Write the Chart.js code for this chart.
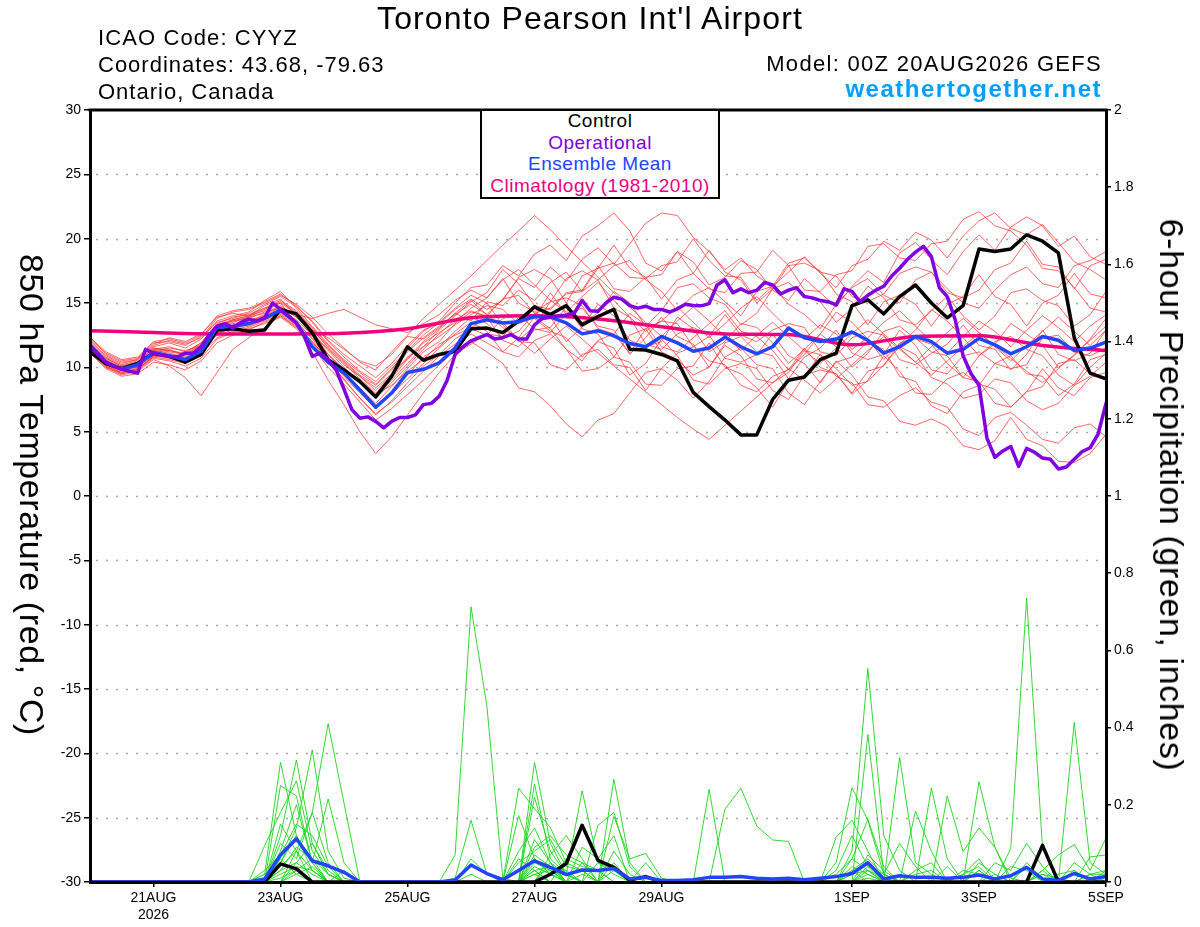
<!DOCTYPE html>
<html><head><meta charset="utf-8">
<script src="https://cdn.jsdelivr.net/npm/chart.js@4.4.1/dist/chart.umd.min.js"></script>
<style>
html,body{margin:0;padding:0;background:#fff;}
#wrap{position:relative;width:1200px;height:927px;overflow:hidden;font-family:"Liberation Sans",Arial,sans-serif;background:#fff;}
#c{position:absolute;left:0;top:0;}
.t{position:absolute;white-space:nowrap;line-height:1;color:#000;}
#legend{position:absolute;left:480px;top:109px;width:240px;height:90px;box-sizing:border-box;border:2px solid #000;background:#fff;}
.lg{position:absolute;left:0;width:100%;text-align:center;font-size:19px;letter-spacing:0.5px;line-height:1;white-space:nowrap;}
</style></head><body>
<div id="wrap">
<canvas id="c" width="1200" height="927"></canvas>
<div class="t" style="left:590px;top:2px;font-size:32px;letter-spacing:1.1px;transform:translateX(-50%);">Toronto Pearson Int'l Airport</div>
<div class="t" style="left:98px;top:27px;font-size:22px;letter-spacing:1.1px;">ICAO Code: CYYZ</div>
<div class="t" style="left:98px;top:54px;font-size:22px;letter-spacing:1px;">Coordinates: 43.68, -79.63</div>
<div class="t" style="left:98px;top:81px;font-size:22px;letter-spacing:1px;">Ontario, Canada</div>
<div class="t" style="right:98px;top:53px;font-size:22px;letter-spacing:1.3px;">Model: 00Z 20AUG2026 GEFS</div>
<div class="t" style="right:98px;top:77px;font-size:24px;letter-spacing:1.5px;font-weight:bold;color:#00a0fa;">weathertogether.net</div>
<div class="t" style="left:32px;top:495px;font-size:34px;letter-spacing:0.6px;transform:translate(-50%,-50%) rotate(90deg);">850 hPa Temperature (red, °C)</div>
<div class="t" style="left:1172px;top:495px;font-size:34px;letter-spacing:0.6px;transform:translate(-50%,-50%) rotate(90deg);">6-hour Precipitation (green, inches)</div>
<div id="legend">
  <div class="lg" style="top:0px;color:#000;">Control</div>
  <div class="lg" style="top:22px;color:#8000e0;">Operational</div>
  <div class="lg" style="top:43px;color:#2244ff;">Ensemble Mean</div>
  <div class="lg" style="top:65px;color:#f0007f;">Climatology (1981-2010)</div>
</div>
</div>
<script>
// ---------- axis / tick definitions ----------
const TICK_HOURS = [24, 72, 120, 168, 216, 288, 336, 384];
const TICK_LABELS = [["21AUG","2026"], "23AUG", "25AUG", "27AUG", "29AUG", "1SEP", "3SEP", "5SEP"];
const TEMP_TICKS = [-30,-25,-20,-15,-10,-5,0,5,10,15,20,25,30];
const PRECIP_TICKS = [0,0.2,0.4,0.6,0.8,1,1.2,1.4,1.6,1.8,2];
const STEP_MAIN = 6;   // hours between 6-hourly values (20AUG 00Z = hour 0)
const STEP_OPER = 3;   // operational run, 3-hourly
const STEP_CLIM = 24;  // daily climatology

// ---------- 850 hPa temperature (deg C), 6-hourly ----------
const controlTemp = [11.2,10.3,9.9,10.3,11.1,10.85,10.4,11.0,12.9,13.0,
 12.8,12.9,14.5,14.15,12.7,10.6,9.8,8.9,7.7,9.3,
 11.6,10.55,11.0,11.25,13.0,13.05,12.7,13.6,14.7,14.1,
 14.8,13.3,13.95,14.5,11.4,11.35,11.0,10.5,8.05,6.95,
 5.9,4.75,4.75,7.5,9.0,9.25,10.6,11.1,14.8,15.25,
 14.15,15.5,16.4,15.0,13.85,14.8,19.2,19.0,19.2,20.3,
 19.8,18.9,12.3,9.55,9.1];
const meanTemp = [11.75,10.4,9.85,10.2,11.15,10.9,10.6,11.25,13.1,13.2,
 13.4,13.8,14.45,13.45,11.6,10.4,9.55,8.25,6.9,8.0,
 9.6,9.85,10.35,11.5,13.4,13.7,13.45,13.55,13.95,13.9,
 13.45,12.6,12.85,12.45,11.85,11.6,12.4,11.9,11.25,11.5,
 12.35,11.6,11.05,11.6,13.05,12.3,12.0,12.2,12.75,12.1,
 11.1,11.6,12.4,12.0,11.1,11.4,12.25,11.75,11.05,11.6,
 12.4,12.1,11.3,11.5,11.95];
const climTemp = [12.85,12.7,12.6,12.6,12.65,13.0,13.85,14.0,13.75,13.15,12.6,12.55,11.75,12.4,12.45,11.7,11.3];
// operational, 3-hourly (one row per day)
const operTemp = [
 11.6,11.0,10.4,10.1,9.85,9.7,9.55,11.4,
 11.1,10.95,10.85,10.8,11.1,11.1,11.6,12.5,
 13.2,13.4,13.05,13.5,13.75,13.6,13.85,15.0,
 14.5,14.0,13.45,12.4,10.85,11.1,10.6,9.8,
 8.3,6.7,6.05,6.15,5.8,5.3,5.8,6.1,
 6.1,6.3,7.1,7.2,7.75,9.0,11.0,11.6,
 12.05,12.3,12.55,12.2,12.3,12.55,12.2,12.2,
 13.3,13.8,13.9,14.0,14.05,14.2,15.2,14.4,
 14.35,15.0,15.45,15.3,14.8,14.6,14.75,14.5,
 14.5,14.3,14.55,14.9,14.8,14.78,14.95,16.4,
 16.8,15.8,16.1,15.8,16.0,16.6,16.4,15.7,
 16.0,16.2,15.5,15.4,15.2,15.1,14.85,16.1,
 15.9,15.1,15.6,16.0,16.3,17.1,17.7,18.4,
 18.95,19.4,18.6,16.2,15.5,13.7,10.9,9.5,
 8.6,4.5,3.0,3.5,3.85,2.3,3.7,3.4,
 2.95,2.85,2.1,2.25,2.85,3.45,3.75,4.8,
 7.2];

// ensemble members, 6-hourly
const memT01 = [12.0,10.8,10.2,10.5,11.6,11.9,11.5,12.2,13.6, 14.0,14.3,15.2,15.9, 14.6,13.2,11.8,10.5,9.4,8.6, 9.8,11.5,12.8,13.6,15.0,16.2,
 16.4,17.9,17.1,18.8,19.5,18.3,20.2,21.0, 22.0,20.6,18.1,17.5,19.0,18.2,16.4,17.0, 18.3,17.6,16.0,15.2,16.9,15.8,14.7,16.3, 17.5,16.6,18.9,19.7,18.4,17.2,19.0,20.3, 19.1,20.9,21.7,21.0,19.4,20.2,18.6,18.0];
const memT02 = [11.5,10.2,9.6,9.9,10.8,10.6,10.3,10.9,12.6, 13.1,13.4,14.0,14.6, 14.2,12.8,11.0,9.6,8.4,7.2, 8.5,9.9,11.2,12.0,13.4,14.3,
 14.0,15.3,16.9,16.2,17.8,16.7,18.4,19.3, 18.0,19.6,21.2,22.0,21.8,20.1,19.0,17.6, 18.5,17.1,16.3,17.4,18.6,17.3,16.2,17.9, 18.4,19.8,19.1,20.5,19.9,18.5,20.2,21.4, 22.0,20.8,20.3,21.1,19.7,18.2,17.6,16.8];
const memT03 = [12.4,11.0,10.4,10.6,11.8,12.3,12.0,12.6,13.9, 14.2,14.0,14.8,15.3, 14.0,12.9,12.3,11.4,10.5,10.1, 11.0,12.4,12.2,13.1,14.2,13.6,
 15.1,14.8,16.0,15.2,16.6,17.4,15.9,16.8, 17.9,18.3,16.8,15.9,14.4,15.6,16.2,15.1, 14.0,15.9,16.3,14.9,14.1,13.0,14.9,16.2, 16.9,15.6,15.0,16.8,17.4,16.1,15.0,14.6, 16.0,17.2,17.8,16.5,16.2,17.9,18.3,19.0];
const memT04 = [11.6,10.4,9.8,10.1,11.4,11.2,11.0,11.8,13.2, 13.6,13.8,14.3,14.6, 14.1,13.8,14.2,14.5,13.9,13.3, 13.0,12.7,13.4,14.1,15.2,16.0,
 15.4,16.8,17.6,16.4,15.2,14.3,15.5,16.6, 15.2,13.9,12.8,13.6,14.7,13.5,12.3,13.4, 14.6,15.5,14.2,13.0,12.2,13.3,12.6,11.4, 12.3,13.5,14.4,13.2,12.0,11.1,12.4,13.6, 12.8,11.6,12.9,14.0,13.1,12.0,13.2,14.1];
const memT05 = [11.3,10.0,9.4,9.7,10.6,10.1,9.2,7.8,9.6, 11.4,12.3,13.1,14.0, 13.2,12.0,10.6,9.0,7.6,6.3, 7.4,8.8,10.1,11.0,12.2,13.0,
 12.5,13.8,14.1,13.0,12.7,14.2,14.6,13.2, 12.9,11.0,12.3,13.9,12.4,11.8,10.0,11.9, 12.4,11.2,10.9,9.1,10.8,11.5,12.9,11.1, 10.6,11.0,12.9,11.7,9.8,9.5,10.9,11.2, 10.3,9.9,10.2,12.3,12.5,11.2,10.9,11.5];
const memT06 = [11.9,10.7,10.1,10.4,11.5,11.3,11.1,11.9,13.4, 13.9,14.1,14.6,15.0, 13.4,11.2,9.0,7.1,5.0,3.3, 4.6,6.3,8.0,9.6,11.0,11.8,
 12.6,12.4,13.9,13.8,12.8,12.3,10.8,12.0, 11.5,9.4,10.3,12.2,10.9,9.0,8.7,9.9, 10.3,9.9,8.2,7.5,9.4,9.8,9.5,7.9, 9.0,10.9,9.7,8.0,7.9,9.1,9.6,8.7, 8.3,6.9,8.1,9.9,8.4,7.8,9.2,9.6];
const memT07 = [11.4,10.3,9.9,10.2,11.0,10.9,10.7,11.3,12.8, 13.3,13.6,14.0,14.4, 13.7,12.5,11.0,9.8,8.9,7.9, 8.6,9.7,10.6,11.8,12.5,13.1,
 13.8,13.5,12.1,13.2,15.1,15.4,14.8,13.0, 12.6,11.1,13.0,13.6,13.4,11.6,12.4,14.1, 12.5,12.0,12.9,13.4,13.1,11.2,10.9,12.3, 12.8,12.5,10.6,10.2,11.1,11.8,13.3,11.7, 11.4,9.8,11.0,12.9,11.0,10.5,11.1,12.9];
const memT08 = [11.7,10.5,9.9,10.0,11.1,11.4,10.9,11.6,13.0, 13.5,13.9,14.5,15.1, 14.3,13.0,11.5,10.3,9.1,8.0, 9.2,10.6,11.9,12.7,13.5,14.6,
 15.4,16.9,15.0,14.3,15.1,16.9,17.5,16.8, 14.6,13.9,11.8,11.4,12.6,13.1,12.5,10.7, 10.4,11.0,12.6,10.9,10.3,8.8,10.5,9.4, 7.7,7.4,5.8,5.5,6.0,5.4,3.9,3.6, 4.3,6.1,4.4,3.9,2.7,2.6,3.3,4.8];
const memT09 = [12.2,11.1,10.5,10.7,11.9,12.0,11.7,12.4,13.5, 13.8,14.2,14.9,15.5, 14.7,13.6,12.1,11.0,10.1,9.2, 10.3,11.7,12.9,13.4,14.5,15.3,
 14.5,15.2,17.0,17.6,16.9,15.0,17.1,17.7, 19.5,17.7,17.0,15.3,16.8,17.3,19.1,17.4, 16.8,15.0,16.1,17.9,18.1,17.5,15.7,15.1, 13.3,15.1,15.6,14.9,13.2,14.9,15.5,17.2, 15.5,14.9,13.2,15.0,15.6,17.3,15.7,15.4];
const memT10 = [11.1,9.9,9.3,9.5,10.4,10.2,9.8,10.5,11.9, 12.5,12.9,13.5,14.0, 13.1,11.9,10.5,9.1,7.6,6.4, 7.3,8.5,9.7,10.9,11.8,12.6,
 11.9,11.2,10.8,12.1,12.6,11.4,9.7,9.9, 10.8,12.5,13.0,11.2,10.6,9.4,10.0,11.7, 10.9,9.1,8.8,9.6,11.3,11.0,9.9,8.6, 8.9,10.2,11.6,11.0,9.2,8.7,7.6,7.9, 9.1,8.8,7.4,6.7,7.2,8.6,9.3,10.4];
const memT11 = [12.1,10.9,10.3,10.6,11.7,12.1,11.8,12.3,13.8, 14.3,14.5,15.0,15.6, 14.9,13.9,12.6,11.5,10.4,9.8, 11.2,12.5,13.8,14.9,16.0,17.1,
 18.3,19.5,20.6,21.8,20.7,19.4,18.2,17.0, 15.8,14.7,13.5,12.4,13.6,14.7,13.6,12.4, 11.3,12.5,13.5,12.4,11.3,10.3,11.5,12.6, 13.7,12.6,11.5,10.4,11.6,12.7,13.8,12.7, 11.6,10.5,11.7,12.8,13.9,12.8,11.7,12.9];
const memT12 = [11.5,10.1,9.5,9.8,10.9,10.7,10.4,11.1,12.3, 12.8,13.0,13.4,13.9, 13.0,11.6,10.0,8.7,7.3,5.9, 6.8,7.9,9.0,10.2,11.3,12.0,
 11.2,10.3,8.4,8.1,7.0,5.6,4.6,5.9, 6.4,8.0,9.6,9.9,9.0,7.6,8.9,10.8, 11.5,10.2,9.9,8.0,7.1,8.9,10.4,10.8, 12.0,11.4,9.3,8.9,7.0,6.4,8.1,8.6, 10.3,10.9,9.5,9.3,7.8,8.7,10.6,11.0];
const memT13 = [11.8,10.5,9.8,10.1,11.3,11.1,10.8,11.5,13.1, 13.7,14.0,14.6,15.2, 14.4,13.1,11.7,10.6,9.6,8.7, 9.9,11.2,12.3,13.2,14.1,14.9,
 14.1,15.3,15.6,14.2,14.6,15.8,16.0,17.9, 16.1,15.9,17.0,17.2,19.0,17.3,16.1,15.8, 17.3,17.4,19.1,17.9,16.0,15.9,17.2,17.5, 19.4,19.6,18.5,18.3,19.6,19.8,21.5,22.1, 21.0,20.6,19.5,17.7,17.5,16.2,14.6,14.3];
const memT14 = [11.3,10.2,9.7,10.0,10.9,11.0,10.6,11.2,12.7, 13.0,13.3,13.8,14.3, 13.6,12.2,10.7,9.5,8.2,7.0, 8.1,9.4,10.8,11.6,12.8,13.9,
 13.4,12.3,12.8,14.2,13.9,12.0,13.1,14.9, 14.0,12.1,11.6,12.0,13.9,13.0,11.2,12.0, 13.4,13.1,11.9,10.3,11.4,12.6,14.3,13.5, 12.2,10.6,11.8,12.9,14.5,13.6,12.3,10.9, 11.8,13.4,12.6,11.7,10.0,10.9,12.2,13.8];
const memT15 = [11.9,10.6,10.0,10.3,11.4,11.6,11.2,11.9,13.3, 13.6,13.9,14.2,14.8, 13.9,12.6,11.3,10.0,8.8,7.6, 8.8,10.1,11.4,12.6,13.7,14.4,
 13.9,12.1,11.6,12.9,13.1,14.7,13.0,12.6, 10.8,10.4,8.7,8.6,9.9,10.1,11.9,10.0, 9.5,8.4,6.9,8.9,9.3,11.0,9.3,8.8, 7.1,6.9,7.8,8.4,7.3,6.9,5.2,4.7, 6.1,6.5,5.5,4.4,4.1,5.3,5.6,4.6];
const memT16 = [11.6,10.4,9.9,10.3,11.3,11.5,11.3,11.7,13.0, 13.4,13.6,14.1,14.7, 13.9,12.7,11.4,10.2,9.3,8.4, 9.5,10.8,11.6,12.4,13.3,14.1,
 14.8,14.5,13.4,13.9,15.8,14.1,13.5,14.2, 15.9,15.0,13.2,14.4,16.2,16.5,15.4,14.9, 13.3,14.2,16.1,16.6,15.5,15.1,13.5,14.6, 16.3,15.4,13.7,13.3,14.4,15.5,14.0,12.9, 14.0,15.8,16.1,15.2,14.8,13.2,14.1,15.9];
const memT17 = [12.3,11.2,10.6,10.8,12.0,12.2,11.9,12.5,14.0, 14.4,14.6,15.1,15.7, 14.8,13.5,12.0,10.8,9.7,8.9, 10.1,11.3,12.5,13.5,14.6,15.6,
 15.0,13.3,12.0,11.9,10.2,9.8,11.0,11.4, 10.2,10.0,8.2,9.9,11.1,11.6,10.5,10.2, 8.6,8.1,9.3,9.8,11.5,10.0,9.5,8.0, 9.7,10.1,11.9,12.3,11.2,10.9,9.2,8.9, 7.2,6.9,8.1,8.5,10.3,10.6,9.5,9.2];
const memT18 = [11.4,10.1,9.6,9.9,10.8,11.0,10.7,11.4,12.5, 12.9,13.2,13.7,14.2, 13.4,12.3,11.0,9.9,8.9,7.7, 9.0,10.3,11.6,12.9,14.0,15.1,
 15.8,17.6,16.5,14.8,14.5,15.7,15.9,17.7, 18.1,17.0,16.9,17.9,18.2,20.0,18.3,17.1, 17.0,15.2,16.3,18.1,18.5,17.4,17.1,15.5, 15.1,15.7,17.3,17.8,17.4,15.8,15.4,16.0, 17.6,18.1,19.8,18.0,17.8,16.1,17.9,18.4];
const memT19 = [11.8,10.7,10.1,10.4,11.5,11.3,11.0,11.7,13.3, 13.7,14.0,14.4,15.0, 14.2,12.9,11.6,10.4,9.3,8.2, 9.4,10.7,12.0,13.0,14.2,15.2,
 14.1,13.1,12.1,11.1,12.2,13.2,12.2,11.1, 10.1,9.1,8.1,7.1,6.1,5.2,4.4,5.5, 6.6,7.7,8.8,9.9,9.0,8.0,9.1,10.2, 11.3,12.4,11.4,10.4,9.4,10.5,11.6,12.7, 11.7,10.7,9.7,8.8,9.9,11.0,12.1,13.2];
const memT20 = [11.2,10.0,9.5,9.8,10.7,10.5,10.1,10.7,12.2, 12.7,13.1,13.6,14.1, 13.3,12.0,10.6,9.3,8.0,6.8, 7.9,9.1,10.3,11.5,12.6,13.5,
 12.8,11.2,12.3,13.9,13.0,11.4,10.5,12.1, 12.6,14.2,13.3,11.6,11.2,12.3,13.4,14.4, 12.8,12.4,11.3,9.8,11.0,12.6,11.6,10.0, 11.1,12.8,13.2,12.2,11.8,10.3,9.2,10.9, 12.0,12.4,11.4,10.9,9.4,8.6,10.0,11.1];

// ---------- 6-hour precipitation (inches), 6-hourly ----------
const controlPrecip = [0,0,0,0,0,0,0,0,0,0,
 0,0,0.047,0.034,0,0,0,0,0,0,
 0,0,0,0,0,0,0,0,0,0.02,
 0.048,0.147,0.056,0.038,0.005,0.014,0,0,0,0,
 0,0,0,0,0,0,0,0,0,0,
 0,0,0,0,0,0,0,0,0,0,
 0.095,0,0,0,0];
const meanPrecip = [0,0,0,0,0,0,0,0,0,0,
 0,0.008,0.07,0.112,0.055,0.042,0.025,0,0,0,
 0,0,0,0.005,0.044,0.022,0.006,0.03,0.055,0.038,
 0.019,0.031,0.03,0.035,0.008,0.012,0.004,0.004,0.006,0.012,
 0.012,0.014,0.01,0.008,0.01,0.006,0.01,0.014,0.022,0.05,
 0.008,0.016,0.012,0.012,0.01,0.012,0.018,0.008,0.016,0.038,
 0.008,0.004,0.022,0.008,0.014];
const memP01 = [0,0,0,0,0,0,0,0,0,0, 0,0.02,0.31,0.12,0.03,0,0,0,0,0, 0,0,0,0,0.06,0.02,0,0,0.31,0.1, 0.02,0,0,0.05,0,0,0,0,0,0, 0,0,0,0,0,0,0,0,0.08,0.553, 0.12,0.03,0,0,0,0,0.03,0,0,0.05, 0.01,0,0,0,0];
const memP02 = [0,0,0,0,0,0,0,0,0,0, 0,0,0.12,0.316,0.1,0.02,0,0,0,0, 0,0,0,0.07,0.713,0.456,0.01,0,0.06,0.02, 0,0,0,0,0,0,0,0,0,0, 0,0,0,0,0,0,0,0,0.02,0.05, 0,0,0,0,0,0.02,0.04,0,0.087,0.736, 0.09,0,0,0,0];
const memP03 = [0,0,0,0,0,0,0,0,0,0, 0,0,0.05,0.14,0.342,0.08,0.01,0,0,0, 0,0,0,0,0,0,0,0.243,0.19,0.141, 0.05,0.03,0,0,0,0,0,0,0,0, 0,0,0,0,0,0,0,0,0,0.382, 0.02,0.1,0.04,0,0,0,0,0,0,0, 0,0,0.414,0.05,0.02];
const memP04 = [0,0,0,0,0,0,0,0,0,0, 0,0,0,0.08,0.18,0.41,0.204,0,0,0, 0,0,0,0,0,0,0,0,0.254,0.06, 0.02,0.236,0.05,0.02,0,0,0,0,0,0.24, 0,0,0,0,0,0,0,0.05,0.244,0.16, 0.02,0,0,0,0,0,0,0,0,0, 0,0,0,0,0];
const memP05 = [0,0,0,0,0,0,0,0,0,0, 0,0.094,0.18,0.262,0.08,0.02,0,0,0,0, 0,0,0,0.01,0.16,0.02,0,0,0.219,0.08, 0.02,0,0,0.266,0.05,0,0,0,0,0, 0,0,0,0,0,0,0,0,0,0, 0,0.323,0.05,0.02,0,0,0,0,0,0, 0.02,0.01,0,0,0];
const memP06 = [0,0,0,0,0,0,0,0,0,0, 0,0,0.25,0.223,0.05,0.215,0.05,0,0,0, 0,0,0,0,0,0,0,0.172,0.06,0.03, 0,0,0.147,0.18,0.04,0,0,0,0,0, 0.189,0.243,0.145,0.109,0.105,0,0,0,0,0, 0,0,0.184,0.08,0,0,0,0,0,0, 0,0,0,0,0];
const memP07 = [0,0,0,0,0,0,0,0,0,0, 0,0,0.1,0.06,0.18,0.05,0,0,0,0, 0,0,0,0,0.02,0,0,0,0,0.07, 0.12,0.06,0,0.17,0.06,0.074,0.01,0,0,0, 0,0,0,0,0,0,0,0,0,0, 0,0,0,0.243,0.06,0,0.26,0.09,0.01,0, 0,0,0,0,0];
const memP08 = [0,0,0,0,0,0,0,0,0,0, 0,0.03,0.07,0.15,0.12,0.04,0,0,0,0, 0,0,0,0,0,0,0,0,0.11,0.05, 0,0.09,0.06,0.12,0,0.05,0,0,0,0, 0,0,0,0,0,0,0,0.116,0.16,0.08, 0,0,0,0,0.223,0.079,0.14,0.09,0,0, 0,0,0,0.065,0.07];
const memP09 = [0,0,0,0,0,0,0,0,0,0, 0,0,0.08,0.2,0.05,0,0.03,0,0,0, 0,0,0,0,0,0,0,0,0.09,0.12, 0.07,0.05,0,0,0,0,0,0,0,0, 0,0,0,0,0,0,0,0,0.06,0.162, 0.04,0,0.03,0.05,0,0,0,0,0,0, 0.03,0.07,0.097,0.03,0.114];
const memP10 = [0,0,0,0,0,0,0,0,0,0, 0,0,0.03,0.09,0.06,0,0,0,0,0, 0,0,0,0,0,0,0,0.08,0.14,0.05, 0,0,0.05,0.03,0,0,0,0,0,0, 0,0,0,0,0,0,0,0,0,0.07, 0.03,0,0,0,0,0,0,0.05,0.03,0.1, 0.04,0,0,0,0];
const memP11 = [0,0,0,0,0,0,0,0,0,0, 0,0,0.15,0.08,0.03,0,0,0,0,0, 0,0,0,0,0,0,0,0,0.03,0.04, 0.03,0,0,0,0,0,0,0,0,0, 0,0,0,0,0,0,0,0.03,0.12,0.04, 0,0,0.02,0.03,0,0,0.05,0.02,0,0, 0,0,0.05,0.02,0.03];
const memP12 = [0,0,0,0,0,0,0,0,0,0, 0,0,0,0.05,0.1,0.03,0,0,0,0, 0,0,0,0,0,0,0,0.05,0.08,0.11, 0.04,0.03,0,0,0,0,0,0,0,0, 0,0,0,0,0,0,0,0,0,0.03, 0.01,0,0,0,0,0.02,0.06,0,0,0, 0,0,0.03,0,0];
const memP13 = [0,0,0,0,0,0,0,0,0,0, 0,0,0.02,0.04,0.03,0,0,0,0,0, 0,0,0,0,0,0,0,0,0.05,0.03, 0,0,0,0.08,0.02,0,0,0,0,0, 0,0,0,0,0,0,0,0,0.04,0.02, 0,0,0,0,0,0,0,0,0.04,0.03, 0,0,0,0.02,0];
const memP14 = [0,0,0,0,0,0,0,0,0,0, 0,0.02,0.05,0.12,0.05,0,0,0,0,0, 0,0,0,0,0,0,0,0.06,0.03,0, 0.06,0.04,0.03,0,0,0,0,0,0,0, 0,0,0,0,0,0,0,0,0.03,0.06, 0.02,0,0,0,0.04,0,0,0,0,0, 0.02,0,0,0,0.03];
const memP15 = [0,0,0,0,0,0,0,0,0,0, 0,0,0.04,0.08,0,0,0,0,0,0, 0,0,0,0,0,0,0,0,0.07,0.04, 0,0.05,0.03,0,0,0,0,0,0,0, 0,0,0,0,0,0,0,0.02,0.06,0.03, 0,0,0,0,0,0.03,0.02,0,0,0, 0,0,0,0,0];
const memP16 = [0,0,0,0,0,0,0,0,0,0, 0,0,0,0.03,0.06,0.02,0,0,0,0, 0,0,0,0,0,0,0,0,0.04,0.02, 0,0,0,0.03,0,0,0,0,0,0, 0,0,0,0,0,0,0,0,0,0.04, 0.02,0,0,0,0,0,0,0,0,0, 0,0.02,0.03,0,0];
const memP17 = [0,0,0,0,0,0,0,0,0,0, 0,0,0.06,0.02,0,0,0,0,0,0, 0,0,0,0,0,0,0,0,0,0.05, 0.02,0,0,0,0,0,0,0,0,0, 0,0,0,0,0,0,0,0,0.02,0.03, 0,0,0,0,0,0,0,0.02,0,0.04, 0,0,0,0,0];
const memP18 = [0,0,0,0,0,0,0,0,0,0, 0,0,0.03,0.05,0.02,0,0,0,0,0, 0,0,0,0,0,0,0,0,0.02,0.03, 0,0,0,0,0,0,0,0,0,0, 0,0,0,0,0,0,0,0,0,0.02, 0,0,0,0,0,0,0.03,0,0,0, 0,0,0,0.02,0.02];
const memP19 = [0,0,0,0,0,0,0,0,0,0, 0,0,0,0.02,0.04,0,0,0,0,0, 0,0,0,0,0,0,0,0,0.03,0, 0,0.02,0,0,0,0,0,0,0,0, 0,0,0,0,0,0,0,0,0.03,0, 0,0,0,0,0,0,0,0,0,0, 0.03,0,0,0,0];
const memP20 = [0,0,0,0,0,0,0,0,0,0, 0,0,0.01,0.03,0,0,0,0,0,0, 0,0,0,0,0,0,0,0,0.02,0, 0,0,0,0,0,0,0,0,0,0, 0,0,0,0,0,0,0,0,0,0.01, 0,0,0,0,0,0,0,0,0,0, 0,0,0,0,0.01];

const tempMembers = [memT01,memT02,memT03,memT04,memT05,memT06,memT07,memT08,memT09,memT10,
                     memT11,memT12,memT13,memT14,memT15,memT16,memT17,memT18,memT19,memT20];
const precipMembers = [memP01,memP02,memP03,memP04,memP05,memP06,memP07,memP08,memP09,memP10,
                       memP11,memP12,memP13,memP14,memP15,memP16,memP17,memP18,memP19,memP20];

// ---------- build chart ----------
const toPts = (arr, step) => arr.map((v, i) => ({x: i * step, y: v}));
const datasets = [];
tempMembers.forEach((m, k) => datasets.push({label: 'T member ' + (k + 1), data: toPts(m, STEP_MAIN), yAxisID: 'y',
  borderColor: 'rgba(255,45,45,0.72)', borderWidth: 1, order: 20}));
precipMembers.forEach((m, k) => datasets.push({label: 'P member ' + (k + 1), data: toPts(m, STEP_MAIN), yAxisID: 'y2',
  borderColor: 'rgba(25,215,25,0.9)', borderWidth: 1, order: 19}));
datasets.push({label: 'Climatology', data: toPts(climTemp, STEP_CLIM), yAxisID: 'y', borderColor: '#f0007f', borderWidth: 3.5,
  cubicInterpolationMode: 'monotone', order: 10});
datasets.push({label: 'Control precip', data: toPts(controlPrecip, STEP_MAIN), yAxisID: 'y2', borderColor: '#000', borderWidth: 3.5, order: 9});
datasets.push({label: 'Mean precip', data: toPts(meanPrecip, STEP_MAIN), yAxisID: 'y2', borderColor: '#2244ff', borderWidth: 3.5, order: 8});
datasets.push({label: 'Control', data: toPts(controlTemp, STEP_MAIN), yAxisID: 'y', borderColor: '#000', borderWidth: 3.5, order: 7});
datasets.push({label: 'Ensemble Mean', data: toPts(meanTemp, STEP_MAIN), yAxisID: 'y', borderColor: '#2244ff', borderWidth: 3.5, order: 6});
datasets.push({label: 'Operational', data: toPts(operTemp, STEP_OPER), yAxisID: 'y', borderColor: '#8000e0', borderWidth: 3.5, order: 5});

const frame = {
  id: 'frame',
  beforeDatasetsDraw(chart) {
    const {ctx, chartArea: a, scales: {y}} = chart;
    ctx.save();
    ctx.strokeStyle = '#a8a8a8';
    ctx.lineWidth = 1.6;
    ctx.setLineDash([2, 8]);
    TEMP_TICKS.forEach(v => {
      if (v <= -30 || v >= 30) return;
      const py = Math.round(y.getPixelForValue(v)) + 0.5;
      ctx.beginPath(); ctx.moveTo(a.left + 6, py); ctx.lineTo(a.right, py); ctx.stroke();
    });
    ctx.restore();
  },
  afterDraw(chart) {
    const {ctx, chartArea: a} = chart;
    ctx.save();
    ctx.strokeStyle = '#000'; ctx.lineWidth = 3;
    ctx.beginPath(); ctx.moveTo(a.left - 1.5, a.top); ctx.lineTo(a.right + 1.5, a.top); ctx.stroke();
    ctx.restore();
  }
};

const tickFont = {family: '"Liberation Sans", Arial, sans-serif', size: 14};
new Chart(document.getElementById('c'), {
  type: 'line',
  data: {datasets},
  plugins: [frame],
  options: {
    responsive: false, animation: false, events: [],
    layout: {padding: {top: 110, left: 0, right: 0, bottom: 0}},
    elements: {point: {radius: 0}, line: {tension: 0, borderJoinStyle: 'round', borderCapStyle: 'round'}},
    plugins: {legend: {display: false}, tooltip: {enabled: false}, title: {display: false}},
    scales: {
      x: {type: 'linear', min: 0, max: 384,
        afterBuildTicks: s => { s.ticks = TICK_HOURS.map(v => ({value: v})); },
        afterFit: s => { s.height = 45; },
        ticks: {autoSkip: false, maxRotation: 0, minRotation: 0, padding: 3, color: '#000', font: tickFont,
          callback: v => TICK_LABELS[TICK_HOURS.indexOf(v)]},
        grid: {drawOnChartArea: false, drawTicks: true, tickLength: 5, color: '#000', lineWidth: 1.5},
        border: {display: true, color: '#000', width: 3, z: 1}},
      y: {position: 'left', min: -30, max: 30,
        afterBuildTicks: s => { s.ticks = TEMP_TICKS.map(v => ({value: v})); },
        afterFit: s => { s.width = 90; },
        ticks: {padding: 3, color: '#000', font: tickFont, callback: v => String(v)},
        grid: {drawOnChartArea: false, drawTicks: true, tickLength: 6, color: '#000', lineWidth: 1.5},
        border: {display: true, color: '#000', width: 3, z: 1}},
      y2: {position: 'right', min: 0, max: 2,
        afterBuildTicks: s => { s.ticks = PRECIP_TICKS.map(v => ({value: v})); },
        afterFit: s => { s.width = 94; },
        ticks: {padding: 3, color: '#000', font: tickFont, callback: v => String(Math.round(v * 10) / 10)},
        grid: {drawOnChartArea: false, drawTicks: true, tickLength: 5, color: '#000', lineWidth: 1.5},
        border: {display: true, color: '#000', width: 3, z: 1}}
    }
  }
});
</script>
</body></html>
